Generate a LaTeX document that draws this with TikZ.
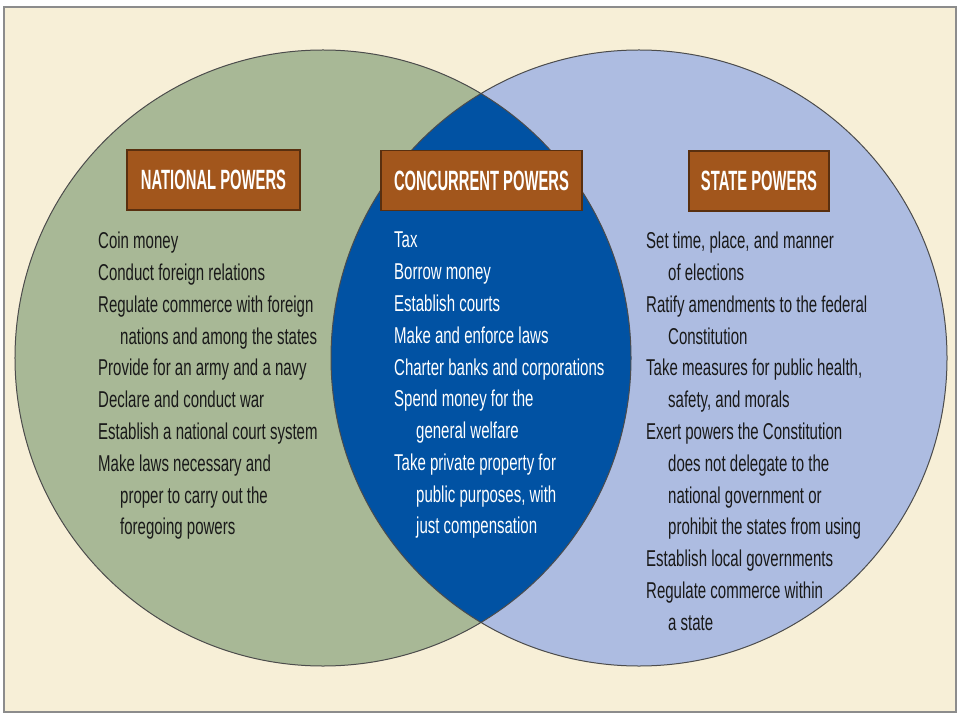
\documentclass[tikz,border=0pt]{standalone}
\usepackage{fontspec}
\setmainfont{Liberation Sans}
\newfontfamily\listfont[FakeStretch=0.655]{Liberation Sans}
\newfontfamily\headfont[FakeStretch=0.53]{Liberation Sans}
\definecolor{paper}{HTML}{F7EFD7}
\definecolor{national}{HTML}{A8B896}
\definecolor{state}{HTML}{ADBCE1}
\definecolor{concurrent}{HTML}{0152A3}
\definecolor{heading}{HTML}{A2561C}
\newcommand{\ind}{\hspace*{22bp}}
\begin{document}
\begin{tikzpicture}[x=1bp, y=-1bp, every node/.style={inner sep=0pt},
    title/.style={draw=heading!55!black, line width=1.5bp, fill=heading, text=white,
        font=\headfont\bfseries\fontsize{28}{30}\selectfont, minimum height=60bp},
    items/.style={anchor=north west, align=left,
        font=\listfont\fontsize{23}{31.9}\selectfont, text=black!90}]
    \useasboundingbox (0,0) rectangle (960,720);
    \filldraw[fill=paper, draw=black!45, line width=1.5bp] (4,7) rectangle (956,712);
    \fill[national] (323,358) circle[radius=308bp];
    \fill[state] (639,358) circle[radius=308bp];
    \begin{scope}
        \clip (323,358) circle[radius=308bp];
        \fill[concurrent] (639,358) circle[radius=308bp];
    \end{scope}
    \draw[black!70, line width=1bp] (323,358) circle[radius=308bp] (639,358) circle[radius=308bp];
    \node[title, minimum width=173bp] (nationalTitle) at (213.5,180) {NATIONAL POWERS};
    \node[title, minimum width=201bp] (concurrentTitle) at (481.5,180.5) {CONCURRENT POWERS};
    \node[title, minimum width=140bp] (stateTitle) at (759,181) {STATE POWERS};
    \node[items] (nationalList) at (98,232) {Coin money\\
        Conduct foreign relations\\
        Regulate commerce with foreign\\
        \ind nations and among the states\\
        Provide for an army and a navy\\
        Declare and conduct war\\
        Establish a national court system\\
        Make laws necessary and\\
        \ind proper to carry out the\\
        \ind foregoing powers};
    \node[items, text=white] (concurrentList) at (394,232) {Tax\\
        Borrow money\\
        Establish courts\\
        Make and enforce laws\\
        Charter banks and corporations\\
        Spend money for the\\
        \ind general welfare\\
        Take private property for\\
        \ind public purposes, with\\
        \ind just compensation};
    \node[items] (stateList) at (646,232) {Set time, place, and manner\\
        \ind of elections\\
        Ratify amendments to the federal\\
        \ind Constitution\\
        Take measures for public health,\\
        \ind safety, and morals\\
        Exert powers the Constitution\\
        \ind does not delegate to the\\
        \ind national government or\\
        \ind prohibit the states from using\\
        Establish local governments\\
        Regulate commerce within\\
        \ind a state};
\end{tikzpicture}
\end{document}
